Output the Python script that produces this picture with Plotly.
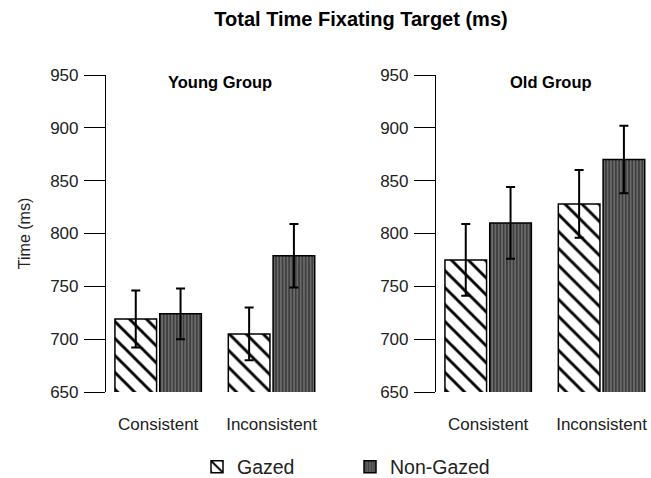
import plotly.graph_objects as go

conditions = ["Consistent", "Inconsistent"]
young_gazed = [719, 705]
young_gazed_err = [27, 25]
young_nongazed = [724, 779]
young_nongazed_err = [24, 30]
old_gazed = [775, 828]
old_gazed_err = [34, 32]
old_nongazed = [810, 870]
old_nongazed_err = [34, 32]
y_ticks = [650, 700, 750, 800, 850, 900, 950]

FONT = "Liberation Sans, Arial, sans-serif"

gazed_marker = dict(color="white", line=dict(color="black", width=1.5),
                    pattern=dict(shape="\\", fgcolor="black", bgcolor="white", size=12, solidity=0.24,
                                 fgopacity=1))
nongazed_marker = dict(color="#444444", line=dict(color="black", width=1.5),
                       pattern=dict(shape="|", fgcolor="#111111", bgcolor="#6a6a6a", size=3.3, solidity=0.5))
err_style = dict(type="data", color="black", thickness=2, width=4.5)

fig = go.Figure()
fig.add_trace(go.Bar(x=conditions, y=young_gazed, name="Gazed", marker=gazed_marker,
                     error_y=dict(array=young_gazed_err, **err_style), xaxis="x", yaxis="y",
                     legendgroup="g"))
fig.add_trace(go.Bar(x=conditions, y=young_nongazed, name="Non-Gazed", marker=nongazed_marker,
                     error_y=dict(array=young_nongazed_err, **err_style), xaxis="x", yaxis="y",
                     legendgroup="n"))
fig.add_trace(go.Bar(x=conditions, y=old_gazed, name="Gazed", marker=gazed_marker, showlegend=False,
                     error_y=dict(array=old_gazed_err, **err_style), xaxis="x2", yaxis="y2",
                     legendgroup="g"))
fig.add_trace(go.Bar(x=conditions, y=old_nongazed, name="Non-Gazed", marker=nongazed_marker, showlegend=False,
                     error_y=dict(array=old_nongazed_err, **err_style), xaxis="x2", yaxis="y2",
                     legendgroup="n"))

yax = dict(range=[650, 950], tickvals=y_ticks, showline=True, linecolor="black", linewidth=1.2,
           ticks="outside", ticklen=21, tickwidth=1.2, tickcolor="black", showgrid=False,
           zeroline=False, tickfont=dict(size=17, color="#222"), ticklabelstandoff=2,
           automargin=False)
xax = dict(range=[-0.46, 1.41], showline=False, ticks="outside", ticklen=17,
           tickcolor="rgba(0,0,0,0)", showgrid=False, zeroline=False,
           tickfont=dict(size=17, color="#222"), automargin=False)

FW, FH = 651, 478
L, T = 106, 75
R = FW - 648
B = FH - 392
W = FW - L - R
H = FH - T - B


def px_x(p):
    return (p - L) / W


def px_y(p):
    return 1 - (p - T) / H


fig.update_layout(
    width=FW, height=FH,
    margin=dict(l=L, r=R, t=T, b=B, autoexpand=False),
    paper_bgcolor="white", plot_bgcolor="white",
    font=dict(family=FONT, color="black"),
    barmode="group", bargap=0.21, bargroupgap=0.07,
    xaxis=dict(domain=[0, px_x(318)], anchor="y", **xax),
    yaxis=dict(domain=[0, 1], anchor="x",
               title=dict(text="Time (ms)", font=dict(size=16, color="#222"), standoff=15), **yax),
    xaxis2=dict(domain=[px_x(436), 1], anchor="y2", **xax),
    yaxis2=dict(domain=[0, 1], anchor="x2", **yax),
    title=dict(text="<b>Total Time Fixating Target (ms)</b>", x=361 / FW, xanchor="center",
               xref="container", yref="container",
               y=1 - 19 / FH, yanchor="middle", font=dict(size=20, color="black")),
    legend=dict(orientation="h", x=px_x(197), xanchor="left", y=px_y(467), yanchor="middle",
                font=dict(size=19.5, color="#222"), entrywidth=108, entrywidthmode="pixels",
                bgcolor="rgba(0,0,0,0)"),
)

panel_titles = [("<b>Young Group</b>", 220), ("<b>Old Group</b>", 551)]
for text, p in panel_titles:
    fig.add_annotation(text=text, x=px_x(p), y=px_y(82), xref="paper", yref="paper",
                       xanchor="center", yanchor="middle",
                       showarrow=False, font=dict(size=16.5, color="black"))

fig.write_html("out.html", config={"displayModeBar": False},
               post_script="document.body.style.margin='0px';document.body.style.overflow='hidden';")
